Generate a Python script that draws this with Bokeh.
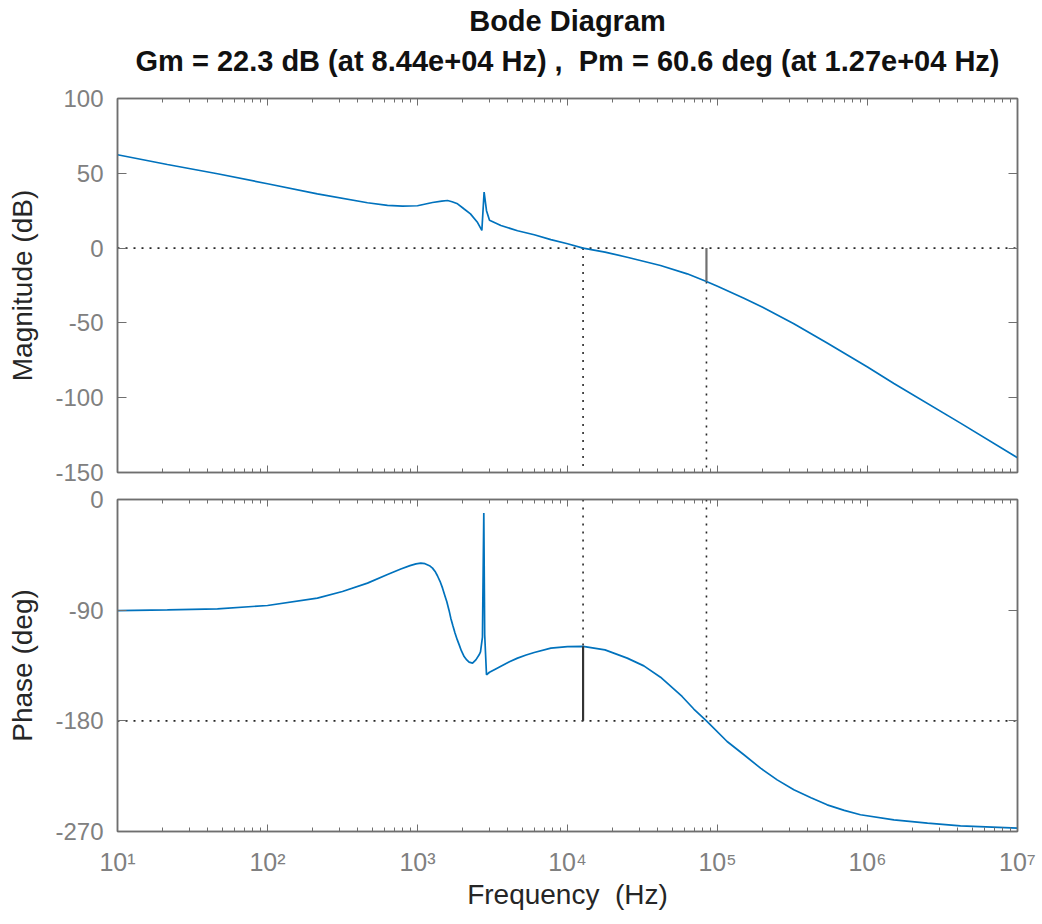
from bokeh.plotting import figure
from bokeh.models import (Range1d, FixedTicker, LogAxis, LinearAxis,
                          CustomJSTickFormatter)
from bokeh.core.properties import value
from bokeh.layouts import column
from bokeh.embed import file_html
from bokeh.resources import INLINE

# ---------------- data ----------------
mag_freq = [10, 21.5, 46.4, 100, 215, 464, 631, 794, 1000, 1259, 1450, 1585, 1700,
            1849, 2037, 2254, 2500, 2685, 2780, 2884, 3020, 3597, 4645, 6000, 7745,
            10000, 12700, 17780, 25000, 41690, 62810, 84400, 100000, 150000,
            200000, 322800, 538300, 1000000, 1500000, 4169000, 10000000]
mag_db = [62.4, 55.9, 49.7, 43.0, 36.3, 30.3, 28.6, 28.0, 28.3, 30.5, 31.4, 31.8, 31.0,
          29.6, 26.3, 22.9, 17.5, 11.8, 37.4, 25.0, 18.6, 15.1, 11.6, 8.9, 5.7,
          2.9, 0.0, -2.7, -6.1, -11.6, -17.2, -22.3, -25.5, -33.5,
          -39.5, -50.5, -63.5, -79.5, -90.5, -117.0, -140.2]

ph_freq = [10, 21.5, 46.4, 100, 215, 316, 464, 631, 774, 891, 977, 1052, 1122,
           1202, 1259, 1318, 1358, 1413, 1469, 1530, 1567, 1622, 1667, 1720,
           1778, 1840, 1897, 1960, 2046, 2130, 2208, 2328, 2449, 2576, 2630,
           2710, 2767, 2805, 2884, 3020, 3300, 3597, 4100, 4645, 5300, 6000,
           7745, 10000, 12700, 17780, 25000, 32280, 41690, 58070, 69500, 84400,
           115900, 150000, 193600, 250000, 322800, 420000, 538300, 700000,
           897400, 1500000, 2512000, 4169000, 10000000]
ph_deg = [-90.3, -89.8, -88.9, -86.2, -80.2, -74.8, -68.0, -61.0, -56.5, -53.8,
          -52.4, -51.8, -52.2, -53.8, -55.8, -59.0, -62.0, -66.5, -72.1, -79.0,
          -83.0, -90.0, -96.5, -102.5, -108.5, -114.0, -118.2, -123.0, -127.7,
          -130.5, -132.3, -133.1, -130.4, -126.3, -124.0, -112.0, -11.0, -110.0,
          -142.5, -140.5, -138.0, -135.6, -132.0, -129.0, -126.5, -124.4, -120.9,
          -119.6, -119.4, -122.3, -129.0, -135.3, -144.5, -160.2, -170.4, -180.0,
          -196.8, -207.6, -218.5, -228.0, -236.1, -242.5, -248.3, -252.8, -256.4,
          -260.5, -263.2, -265.4, -267.3]

gm_db, gm_freq = 22.3, 8.44e4
pm_deg, pm_freq = 60.6, 1.27e4

x_decades = [1e1, 1e2, 1e3, 1e4, 1e5, 1e6, 1e7]
x_minor = [m * 10 ** k for k in range(1, 7) for m in range(2, 10)]
mag_ticks = [-150, -100, -50, 0, 50, 100]
ph_ticks = [-270, -180, -90, 0]

title1 = "Bode Diagram"
title2 = "Gm = 22.3 dB (at 8.44e+04 Hz) , \u00a0Pm = 60.6 deg (at 1.27e+04 Hz)"
mag_label = "Magnitude (dB)"
ph_label = "Phase (deg)"
freq_label = "Frequency \u00a0(Hz)"

# ---------------- styling ----------------
FONT = "Liberation Sans"
AXC = "#6f6f6f"
TLC = "#808080"
LBC = "#262626"
BLUE = "#0072BD"
DOT = "#262626"
LEFT = 117
RIGHT = 24

x_range = Range1d(10, 1e7)


def hide_labels(ax):
    ax.major_label_text_font_size = "1px"
    ax.major_label_text_alpha = 0
    ax.major_label_standoff = 0


def tick_style(ax, major_in, minor_in):
    ax.major_tick_in = major_in
    ax.major_tick_out = 0
    ax.minor_tick_in = minor_in
    ax.minor_tick_out = 0
    ax.axis_line_color = AXC
    ax.major_tick_line_color = AXC
    ax.minor_tick_line_color = AXC
    ax.axis_line_width = 1.5


def make_fig(yr, yticks, ylabel, fh, show_x_labels):
    p = figure(x_axis_type="log", x_range=x_range, y_range=yr,
               frame_width=900, frame_height=fh, toolbar_location=None,
               output_backend="svg", background_fill_color="white",
               border_fill_color="white")
    p.grid.visible = False
    p.outline_line_color = AXC
    p.outline_line_width = 1.5

    ya = p.yaxis[0]
    ya.ticker = FixedTicker(ticks=yticks)
    ya.formatter = CustomJSTickFormatter(code="return tick.toString();")
    ya.axis_label = ylabel
    ya.axis_label_text_font = FONT
    ya.axis_label_text_font_size = "28px"
    ya.axis_label_text_font_style = "normal"
    ya.axis_label_text_color = LBC
    ya.axis_label_standoff = 14
    ya.major_label_text_font = FONT
    ya.major_label_text_font_size = "24px"
    ya.major_label_text_color = TLC
    ya.major_label_standoff = 14
    tick_style(ya, 9, 0)

    ra = LinearAxis(ticker=FixedTicker(ticks=yticks))
    hide_labels(ra)
    tick_style(ra, 9, 0)
    p.add_layout(ra, "right")

    xa = p.xaxis[0]
    xa.ticker = FixedTicker(ticks=x_decades, minor_ticks=x_minor)
    tick_style(xa, 7, 4)
    if show_x_labels:
        xa.formatter = CustomJSTickFormatter(code="""
            const sup = {'0':'\u2070','1':'\u00b9','2':'\u00b2','3':'\u00b3','4':'\u2074',
                         '5':'\u2075','6':'\u2076','7':'\u2077','8':'\u2078','9':'\u2079','-':'\u207b'};
            const e = Math.round(Math.log10(tick));
            return '10' + String(e).split('').map(c => sup[c]).join('');
        """)
        xa.major_label_text_font = FONT
        xa.major_label_text_font_size = "25px"
        xa.major_label_text_color = TLC
        xa.major_label_standoff = 16
        xa.axis_label = freq_label
        xa.axis_label_text_font = FONT
        xa.axis_label_text_font_size = "28px"
        xa.axis_label_text_font_style = "normal"
        xa.axis_label_text_color = LBC
        xa.axis_label_standoff = 0
    else:
        hide_labels(xa)

    ta = LogAxis(ticker=FixedTicker(ticks=x_decades, minor_ticks=x_minor))
    hide_labels(ta)
    tick_style(ta, 7, 4)
    p.add_layout(ta, "above")

    p.min_border_left = LEFT
    p.min_border_right = RIGHT
    return p


# ---------------- title strip ----------------
TH = 84
p0 = figure(x_axis_type="log", x_range=x_range, y_range=Range1d(0, TH),
            frame_width=900, frame_height=TH, toolbar_location=None,
            output_backend="svg", x_axis_location=None, y_axis_location=None,
            min_border_left=LEFT, min_border_right=RIGHT, min_border_top=0,
            min_border_bottom=0, border_fill_color="white")
p0.grid.visible = False
p0.outline_line_color = None
xc = (x_range.start * x_range.end) ** 0.5
p0.text(x=[xc, xc], y=[TH - 20, TH - 60], text=[title1, title2],
        text_font=value(FONT), text_font_size="29px", text_font_style="bold",
        text_color="#111111", text_align="center", text_baseline="middle")

# ---------------- magnitude ----------------
p1 = make_fig(Range1d(-150, 100), mag_ticks, mag_label, 374, False)
dot = dict(line_color=DOT, line_width=1.6, line_dash="2 6")
p1.line([x_range.start, x_range.end], [0, 0], **dot)
p1.line([pm_freq, pm_freq], [0, mag_ticks[0]], **dot)
p1.line([gm_freq, gm_freq], [-gm_db, mag_ticks[0]], **dot)
p1.line(mag_freq, mag_db, line_color=BLUE, line_width=1.7)
p1.line([gm_freq, gm_freq], [0, -gm_db], line_color="#707070", line_width=2.2)
p1.min_border_top = 14
p1.min_border_bottom = 13

# ---------------- phase ----------------
p2 = make_fig(Range1d(-270, 0), ph_ticks, ph_label, 332, True)
p2.line([x_range.start, x_range.end], [-180, -180], **dot)
p2.line([pm_freq, pm_freq], [0, -180 + pm_deg], **dot)
p2.line([gm_freq, gm_freq], [0, -180], **dot)
p2.line(ph_freq, ph_deg, line_color=BLUE, line_width=1.7)
p2.line([pm_freq, pm_freq], [-180 + pm_deg, -180], line_color="#333333", line_width=2.2)
p2.min_border_top = 14
p2.min_border_bottom = 2

layout = column(p0, p1, p2, spacing=0)
with open("out.html", "w", encoding="utf-8") as f:
    f.write(file_html(layout, INLINE))
